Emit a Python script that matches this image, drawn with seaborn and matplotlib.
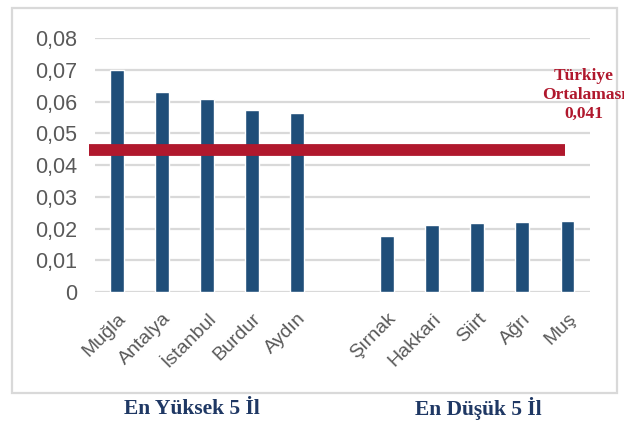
import pandas as pd
import numpy as np
import matplotlib
matplotlib.use("Agg")
import matplotlib.pyplot as plt
from matplotlib.patches import Rectangle
from matplotlib.ticker import FuncFormatter
import seaborn as sns

# veriler
top_iller = ['Muğla', 'Antalya', 'İstanbul', 'Burdur', 'Aydın']
top_degerler = [0.0699, 0.0630, 0.0609, 0.0573, 0.0565]
dusuk_iller = ['Şırnak', 'Hakkari', 'Siirt', 'Ağrı', 'Muş']
dusuk_degerler = [0.0175, 0.0211, 0.0216, 0.0219, 0.0224]
ortalama_cizgi = 0.0447
ortalama_etiket = 'Türkiye\nOrtalaması\n0,041'
grup_etiketleri = ['En Yüksek 5 İl', 'En Düşük 5 İl']
y_ticks = [0, 0.01, 0.02, 0.03, 0.04, 0.05, 0.06, 0.07, 0.08]

df = pd.DataFrame({'il': top_iller + dusuk_iller,
                   'deger': top_degerler + dusuk_degerler})
order = top_iller + [' '] + dusuk_iller

sns.set_theme(style="white")
plt.rcParams['font.family'] = ['Liberation Sans', 'DejaVu Sans']
serif = ['Liberation Serif', 'DejaVu Serif']

fig = plt.figure(figsize=(6.24, 4.21), dpi=100)
ax = fig.add_axes([0.152, 0.3064, 0.7935, 0.6033])

sns.barplot(data=df, x='il', y='deger', order=order, color='#1f4e79',
            width=0.31, saturation=1, ax=ax, zorder=3)

ax.set_ylim(0, 0.08)
ax.set_xlim(-0.5, 10.5)
ax.set_yticks(y_ticks)
ax.yaxis.set_major_formatter(FuncFormatter(
    lambda v, p: '0' if v == 0 else f'{v:.2f}'.replace('.', ',')))
ax.grid(axis='y', color='#d9d9d9', linewidth=1.6, zorder=0)
ax.set_axisbelow(True)
for s in ax.spines.values():
    s.set_visible(False)
ax.tick_params(axis='y', length=0, labelsize=15.5, labelcolor='#595959', pad=13)
ax.tick_params(axis='x', length=0, labelsize=14, labelcolor='#595959', pad=13)
plt.setp(ax.get_xticklabels(), rotation=45, ha='right', va='top',
         rotation_mode='anchor')
ax.set_xlabel('')
ax.set_ylabel('')

# ortalama çizgisi
ax.plot([-0.633, 9.94], [ortalama_cizgi, ortalama_cizgi], color='#b0182d',
        linewidth=8.5, solid_capstyle='butt', zorder=4, clip_on=False)

fig.text(584 / 624, 1 - 95 / 421, ortalama_etiket, ha='center', va='center',
         fontsize=12.5, fontweight='bold', color='#b0182d',
         family=serif, linespacing=1.25)

# çerçeve
fig.patches.append(Rectangle((12 / 624, 1 - 393 / 421), 605 / 624, 385 / 421,
                             transform=fig.transFigure, fill=False,
                             edgecolor='#d9d9d9', linewidth=1.6))

fig.text(192 / 624, 1 - 409 / 421, grup_etiketleri[0], ha='center', va='center',
         fontsize=15.5, fontweight='bold', color='#1f3864', family=serif)
fig.text(478 / 624, 1 - 409 / 421, grup_etiketleri[1], ha='center', va='center',
         fontsize=15.5, fontweight='bold', color='#1f3864', family=serif)

fig.savefig('out.png', dpi=100)
